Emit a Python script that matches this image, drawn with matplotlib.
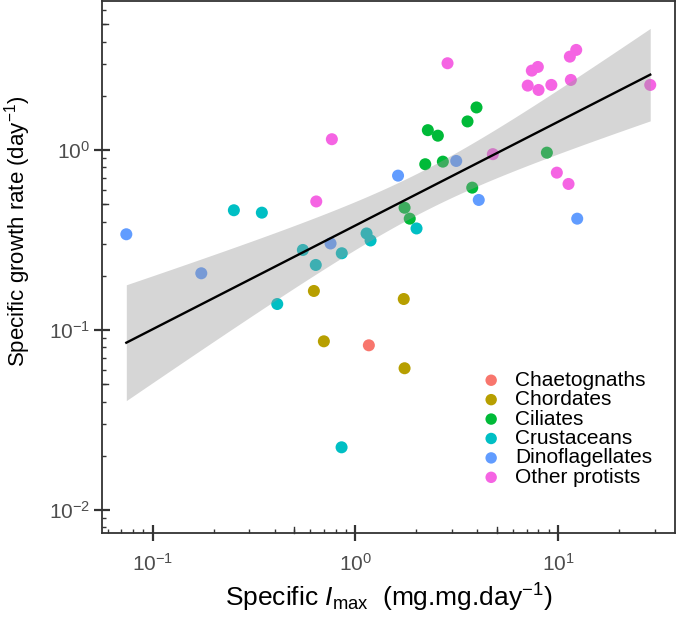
import numpy as np
import matplotlib
matplotlib.use("Agg")
import matplotlib.pyplot as plt
from matplotlib.ticker import LogLocator, NullFormatter

plt.rcParams["font.family"] = ["Liberation Sans", "DejaVu Sans"]
plt.rcParams["mathtext.fontset"] = "custom"
plt.rcParams["mathtext.rm"] = "Liberation Sans"
plt.rcParams["mathtext.it"] = "Liberation Sans:italic"

# groups in legend order
groupes = ["Chaetognaths", "Chordates", "Ciliates", "Crustaceans",
           "Dinoflagellates", "Other protists"]
couleurs = ["#F8766D", "#B79F00", "#00BA38", "#00BFC4", "#619CFF", "#F564E3"]

# specific Imax (mg.mg.day-1) and growth rate (day-1) per group
imax_chaeto = [1.167]
mu_chaeto = [0.0822]

imax_chord = [0.625, 1.735, 0.700, 1.751]
mu_chord = [0.1647, 0.1486, 0.0865, 0.0613]

imax_cilie = [3.965, 3.58, 2.281, 2.556, 2.215, 2.705, 8.82, 3.777, 1.751, 1.857]
mu_cilie = [1.722, 1.44, 1.288, 1.20, 0.833, 0.861, 0.966, 0.6174, 0.4775, 0.4152]

imax_crust = [0.2518, 0.346, 0.4122, 0.5514, 0.6385, 0.858, 0.856, 1.137, 1.190, 2.006]
mu_crust = [0.4624, 0.4484, 0.1394, 0.2783, 0.2297, 0.2668, 0.0223, 0.3437, 0.3142, 0.3664]

imax_dino = [0.0742, 0.1739, 0.7553, 1.626, 3.149, 4.068, 12.45]
mu_dino = [0.3401, 0.2065, 0.3024, 0.7199, 0.8686, 0.5275, 0.4152]

imax_autres = [0.7666, 0.6421, 2.853, 7.433, 7.959, 11.45, 12.31, 7.096, 8.023,
               9.28, 11.58, 28.54, 4.774, 9.876, 11.28]
mu_autres = [1.147, 0.5175, 3.031, 2.758, 2.891, 3.298, 3.594, 2.277, 2.154,
             2.297, 2.448, 2.297, 0.9477, 0.748, 0.6473]

donnees = [(imax_chaeto, mu_chaeto), (imax_chord, mu_chord), (imax_cilie, mu_cilie),
           (imax_crust, mu_crust), (imax_dino, mu_dino), (imax_autres, mu_autres)]

fig = plt.figure(figsize=(6.77, 6.17), dpi=100)
ax = fig.add_axes([0.1507, 0.1361, 0.8463, 0.8623])

for nom, coul, (xs, ys) in zip(groupes, couleurs, donnees):
    ax.scatter(xs, ys, s=75, color=coul, edgecolors="none", label=nom, zorder=2)

# linear fit in log-log space with 95% confidence band
lx = np.log10(np.concatenate([d[0] for d in donnees]))
ly = np.log10(np.concatenate([d[1] for d in donnees]))
n = len(lx)
b, a = np.polyfit(lx, ly, 1)
resid = ly - (a + b * lx)
s = np.sqrt(np.sum(resid ** 2) / (n - 2))
sxx = np.sum((lx - lx.mean()) ** 2)
t = 2.0154
grille = np.linspace(lx.min(), lx.max(), 100)
pred = a + b * grille
se = s * np.sqrt(1 / n + (grille - lx.mean()) ** 2 / sxx)
ax.fill_between(10 ** grille, 10 ** (pred - t * se), 10 ** (pred + t * se),
                color="#999999", alpha=0.4, linewidth=0, zorder=3)
ax.plot(10 ** grille, 10 ** pred, color="black", linewidth=1.7, zorder=4)

ax.set_xscale("log")
ax.set_yscale("log")
ax.set_xlim(0.0563, 37.8)
ax.set_ylim(0.00745, 6.72)

for axe in (ax.xaxis, ax.yaxis):
    axe.set_major_locator(LogLocator(base=10, numticks=10))
    axe.set_minor_locator(LogLocator(base=10, subs=[2, 3, 4, 5, 6, 7, 8, 9], numticks=20))
    axe.set_minor_formatter(NullFormatter())

ax.tick_params(which="major", direction="inout", length=11, width=1.6,
               color="#333333", labelsize=15, labelcolor="#4D4D4D", pad=3)
ax.tick_params(axis="x", which="major", pad=9)
ax.tick_params(which="minor", direction="in", length=3, width=1.0, color="#333333")

# longer ticks at 5 x 10^k
for v in [0.5, 5, 50]:
    if 0.0563 < v < 37.8:
        ax.plot([v, v], [0, 0.012], transform=ax.get_xaxis_transform(),
                color="#333333", linewidth=1.0, clip_on=False, zorder=5)
for v in [0.05, 0.5, 5]:
    ax.plot([0, 0.011], [v, v], transform=ax.get_yaxis_transform(),
            color="#333333", linewidth=1.0, clip_on=False, zorder=5)

for sp in ax.spines.values():
    sp.set_color("#333333")
    sp.set_linewidth(1.3)

ax.set_xlabel(r"Specific $\mathit{I}_{\mathrm{max}}$  (mg.mg.day$^{-1}$)", fontsize=19)
ax.set_ylabel(r"Specific growth rate (day$^{-1}$)", fontsize=16)
ax.xaxis.set_label_coords(0.5, -0.092)
ax.yaxis.set_label_coords(-0.12, 0.568)

ax.legend(loc="center left", bbox_to_anchor=(0.661, 0.196), frameon=False,
          fontsize=15, borderpad=0, borderaxespad=0, handlelength=1.0,
          handletextpad=0.65, labelspacing=0.02, markerscale=0.95)

fig.savefig("out.png", dpi=100)
